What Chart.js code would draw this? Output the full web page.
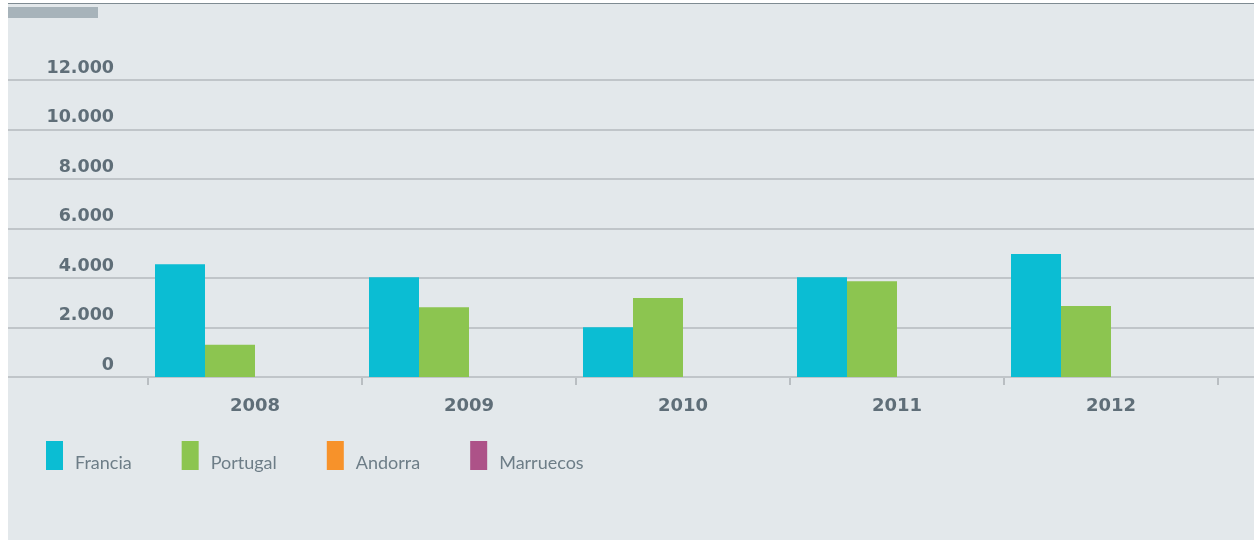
<!DOCTYPE html>
<html>
<head>
<meta charset="utf-8">
<script src="https://cdn.jsdelivr.net/npm/chart.js@4.4.1/dist/chart.umd.min.js"></script>
<style>
  html, body { margin: 0; padding: 0; background: #ffffff; }
  #wrap { position: relative; width: 1254px; height: 540px; overflow: hidden; }
  #bg { position: absolute; left: 8px; top: 3px; width: 1246px; height: 537px; background: #e3e8eb; border-top: 1px solid #7f8b92; }
  #tag { position: absolute; left: 8px; top: 7px; width: 90px; height: 11px; background: #a7b3ba; }
  #c { position: absolute; left: 0; top: 0; }
</style>
</head>
<body>
<div id="wrap">
  <div id="bg"></div>
  <div id="tag"></div>
  <canvas id="c" width="1254" height="540"></canvas>
</div>
<script>
const years = ['2008', '2009', '2010', '2011', '2012'];
const francia = [4560, 4030, 2010, 4030, 4970];
const portugal = [1300, 2820, 3190, 3870, 2870];
const andorra = [0, 0, 0, 0, 0];
const marruecos = [0, 0, 0, 0, 0];
const seriesNames = ['Francia', 'Portugal', 'Andorra', 'Marruecos'];
const seriesColors = ['#0bbdd3', '#8cc550', '#f7922a', '#ad5288'];
const yTicks = [0, 2000, 4000, 6000, 8000, 10000, 12000];

function fmt(v) { return String(v).replace(/\B(?=(\d{3})+(?!\d))/g, '.'); }

const gridPlugin = {
  id: 'fullGrid',
  beforeDatasetsDraw(chart) {
    const ctx = chart.ctx;
    const y = chart.scales.y;
    ctx.save();
    ctx.strokeStyle = '#c0c5c9';
    ctx.lineWidth = 2;
    yTicks.forEach(v => {
      const py = Math.round(y.getPixelForValue(v));
      ctx.beginPath();
      ctx.moveTo(8, py);
      ctx.lineTo(1254, py);
      ctx.stroke();
    });
    ctx.restore();
  }
};

const legendPlugin = {
  id: 'customLegend',
  afterDraw(chart) {
    const ctx = chart.ctx;
    ctx.save();
    ctx.font = '18px Lato';
    ctx.textBaseline = 'alphabetic';
    let x = 46;
    chart.data.datasets.forEach(ds => {
      ctx.fillStyle = ds.backgroundColor;
      ctx.fillRect(x, 441, 17, 29);
      ctx.fillStyle = '#6d7d87';
      const tx = x + 29;
      ctx.fillText(ds.label, tx, 469);
      x = tx + ctx.measureText(ds.label).width + 50;
    });
    ctx.restore();
  }
};

const datasets = [francia, portugal, andorra, marruecos].map((d, i) => ({
  label: seriesNames[i],
  data: d,
  backgroundColor: seriesColors[i],
  borderWidth: 0,
  categoryPercentage: 0.9346,
  barPercentage: 1.0
}));

new Chart(document.getElementById('c'), {
  type: 'bar',
  data: { labels: years, datasets },
  options: {
    responsive: false,
    animation: false,
    devicePixelRatio: 1,
    layout: { padding: { left: 8, right: 36, top: 80, bottom: 0 } },
    plugins: { legend: { display: false }, tooltip: { enabled: false } },
    scales: {
      x: {
        grid: { display: true, drawOnChartArea: false, drawTicks: true, tickLength: 8, color: '#b9bec2', lineWidth: 2, offset: true },
        border: { display: false },
        ticks: { color: '#5f6e78', font: { family: 'DejaVu Sans', weight: 'bold', size: 18 }, padding: 11 },
        afterFit(scale) { scale.height = 163; }
      },
      y: {
        min: 0, max: 12000,
        afterBuildTicks(scale) { scale.ticks = yTicks.map(v => ({ value: v })); },
        grid: { display: false, drawTicks: false },
        border: { display: false },
        ticks: {
          color: '#5f6e78',
          font: { family: 'DejaVu Sans', weight: 'bold', size: 17.5 },
          padding: 34,
          labelOffset: -12,
          callback: v => fmt(v)
        },
        afterFit(scale) { scale.width = 140; }
      }
    }
  },
  plugins: [gridPlugin, legendPlugin]
});
</script>
</body>
</html>
